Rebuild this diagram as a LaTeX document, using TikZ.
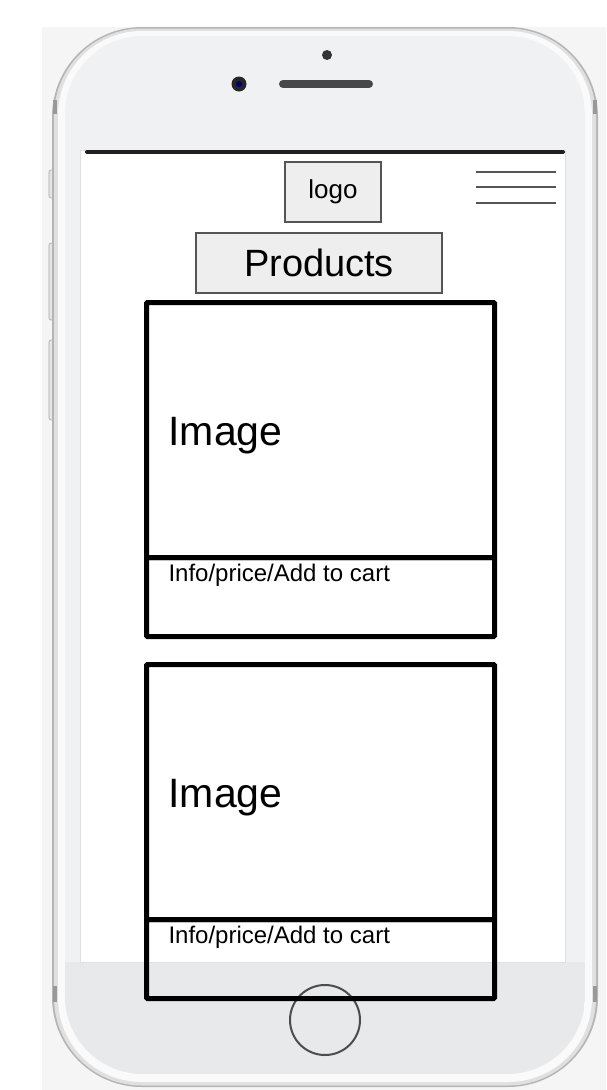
\documentclass[tikz,border=0pt]{standalone}
\usepackage{fontspec}
\setmainfont{Liberation Sans}
\definecolor{backdrop}{HTML}{F5F5F5}
\definecolor{rim}{HTML}{B5B5B5}
\definecolor{rimlight}{HTML}{E0E0E0}
\definecolor{bezel}{HTML}{FAFAFA}
\definecolor{facetop}{HTML}{F0F1F3}
\definecolor{facebot}{HTML}{E8E9EB}
\definecolor{boxfill}{HTML}{EEEEEE}
\definecolor{boxline}{HTML}{555555}
\tikzset{
  labelbox/.style={draw=boxline, fill=boxfill, line width=1.5pt, outer sep=0pt, inner sep=0pt},
  cardpart/.style={draw=black, line width=5pt, outer sep=0pt, inner sep=0pt, minimum width=348pt, rounded corners=1pt},
  bigtext/.style={font=\fontsize{41}{47}\selectfont, inner sep=0pt, outer sep=0pt},
  smalltext/.style={font=\fontsize{24}{28}\selectfont, inner sep=0pt, outer sep=0pt},
  menuline/.style={draw=boxline, line width=2pt},
  sidebutton/.style={draw=black!35, fill=black!10, line width=0.6pt, rounded corners=2pt},
  edgemark/.style={fill=black!40},
}
\begin{document}
\begin{tikzpicture}[x=1pt,y=-1pt]
\useasboundingbox (0,0) rectangle (606,1090);
\fill[white] (0,0) rectangle (606,1090);
\fill[backdrop] (42,27) rectangle (606,1090);

% side buttons
\draw[sidebutton] (49,170) rectangle (55,198);
\draw[sidebutton] (49,243) rectangle (55,320);
\draw[sidebutton] (49,340) rectangle (55,420);

% phone body: rim, bezel and face
\fill[rim, rounded corners=90pt] (52,27) rectangle (598,1087);
\fill[rimlight, rounded corners=88pt] (54,28.5) rectangle (596,1085.5);
\fill[bezel, rounded corners=84pt] (58,31) rectangle (592,1082);
\begin{scope}
  \clip[rounded corners=78pt] (65,36) rectangle (585,1074);
  \fill[facetop] (65,36) rectangle (585,1074);
  \fill[facebot] (65,962) rectangle (585,1074);
\end{scope}

% darker marks on the rim
\fill[edgemark] (53,100) rectangle (57,114);
\fill[edgemark] (593,100) rectangle (597,114);
\fill[edgemark] (53,986) rectangle (57,1002);
\fill[edgemark] (593,986) rectangle (597,1002);

% earpiece, camera and sensor
\fill[black!80] (327,55) circle (5pt);
\fill[black!85] (239,84) circle (7.5pt);
\fill[blue!45!black] (239,84) circle (3pt);
\draw[black!72, line width=8pt, line cap=round] (283,84) -- (369,84);

% screen
\draw[fill=white, draw=black!12, line width=0.8pt] (80,150) rectangle (565,962);
\draw[black!88, line width=4pt, line cap=round] (87,152) -- (563,152);

% home button
\node[circle, draw=black!70, line width=2pt, minimum size=70pt, inner sep=0pt] (home) at (325,1020) {};

% header: logo and menu
\node[labelbox, minimum width=96pt, minimum height=60pt, font=\fontsize{26}{30}\selectfont] (logo) at (333,192) {\raisebox{-2pt}{logo}};
\coordinate (m1a) at (476,172); \coordinate (m1b) at (556,172);
\coordinate (m2a) at (476,187); \coordinate (m2b) at (556,187);
\coordinate (m3a) at (476,203); \coordinate (m3b) at (556,203);
\draw[menuline] (m1a) -- (m1b);
\draw[menuline] (m2a) -- (m2b);
\draw[menuline] (m3a) -- (m3b);

\node[labelbox, minimum width=246pt, minimum height=60pt, font=\fontsize{38}{43}\selectfont] (title) at (319,263) {Products};

% product cards
\node[cardpart, minimum height=255pt, anchor=north west] (img1) at (146.5,302.5) {};
\node[cardpart, minimum height=79pt, anchor=north west] (info1) at (img1.south west) {};
\node[bigtext, anchor=base west] (img1t) at ([xshift=22pt,yshift=-15pt]img1.west) {Image};
\node[smalltext, anchor=base west] (info1t) at ([xshift=22pt,yshift=-24pt]info1.north west) {Info/price/Add to cart};

\node[cardpart, minimum height=255pt, anchor=north west] (img2) at (146.5,664.5) {};
\node[cardpart, minimum height=79pt, anchor=north west] (info2) at (img2.south west) {};
\node[bigtext, anchor=base west] (img2t) at ([xshift=22pt,yshift=-15pt]img2.west) {Image};
\node[smalltext, anchor=base west] (info2t) at ([xshift=22pt,yshift=-24pt]info2.north west) {Info/price/Add to cart};
\end{tikzpicture}
\end{document}
